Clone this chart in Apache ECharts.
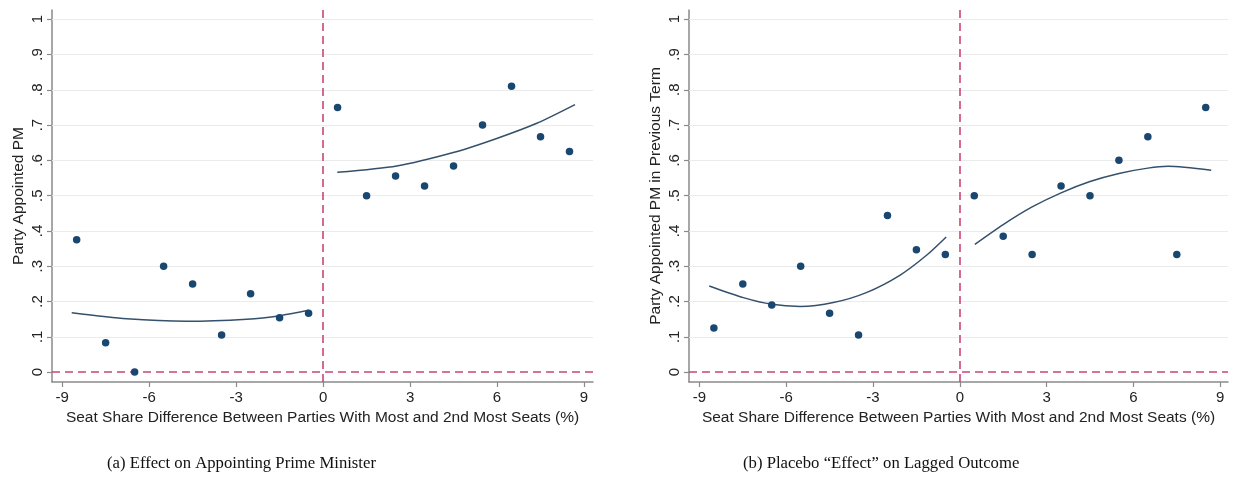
<!DOCTYPE html>
<html>
<head>
<meta charset="utf-8">
<script src="https://cdn.jsdelivr.net/npm/echarts@6/dist/echarts.min.js"></script>
<style>
  html, body { margin: 0; padding: 0; background: #fff; }
  #chart { width: 1234px; height: 488px; }
</style>
</head>
<body>
<div id="chart"></div>
<script>
// Bin midpoints of the seat-share margin (%)
const binsBelow = [-8.5, -7.5, -6.5, -5.5, -4.5, -3.5, -2.5, -1.5, -0.5];
const binsAbove = [0.5, 1.5, 2.5, 3.5, 4.5, 5.5, 6.5, 7.5, 8.5];

// (a) share of parties appointed PM, per bin
const pmBelow = [0.375, 0.083, 0.0, 0.30, 0.25, 0.105, 0.222, 0.154, 0.167];
const pmAbove = [0.75, 0.50, 0.556, 0.527, 0.584, 0.70, 0.81, 0.667, 0.625];

// (b) share appointed PM in the previous term, per bin
const lagBelow = [0.125, 0.25, 0.19, 0.30, 0.167, 0.105, 0.444, 0.347, 0.333];
const lagAbove = [0.50, 0.385, 0.333, 0.527, 0.50, 0.60, 0.667, 0.333, 0.75];

// Quadratic fit curves on each side of the cutoff
const fitPmBelowX = [-8.67, -6.77, -4.7, -2.63, -1.48, -0.5];
const fitPmBelowY = [0.168, 0.151, 0.144, 0.150, 0.160, 0.175];
const fitPmAboveX = [0.49, 2.54, 4.49, 5.99, 7.37, 8.69];
const fitPmAboveY = [0.566, 0.584, 0.622, 0.662, 0.705, 0.758];
const fitLagBelowX = [-8.66, -7.48, -6.5, -5.52, -4.37, -3.21, -2.06, -1.15, -0.47];
const fitLagBelowY = [0.244, 0.211, 0.192, 0.186, 0.197, 0.226, 0.275, 0.331, 0.383];
const fitLagAboveX = [0.52, 1.5, 2.5, 3.5, 4.5, 5.5, 6.5, 7.2, 8.69];
const fitLagAboveY = [0.362, 0.418, 0.468, 0.508, 0.540, 0.563, 0.578, 0.583, 0.572];

// Axis ticks
const xTicks = [-9, -6, -3, 0, 3, 6, 9];
const yTicks = [0, 0.1, 0.2, 0.3, 0.4, 0.5, 0.6, 0.7, 0.8, 0.9, 1];

const xTitle = 'Seat Share Difference Between Parties With Most and 2nd Most Seats (%)';
const yTitles = ['Party Appointed PM', 'Party Appointed PM in Previous Term'];
const captions = ['(a) Effect on Appointing Prime Minister', '(b) Placebo \u201cEffect\u201d on Lagged Outcome'];

const NAVY = '#1a476f';
const FIT = '#35506b';
const REF = '#c8477a';
const AXIS = '#8a8a8a';
const SANS = 'Liberation Sans, Arial, sans-serif';

const zip = (xs, ys) => xs.map((x, i) => [x, ys[i]]);
const yFmt = v => (Math.abs(v) < 1e-9 ? '0' : Math.abs(v - 1) < 1e-9 ? '1' : '.' + Math.round(v * 10));

function xAxisFor(gi, min, max) {
  return {
    type: 'value', gridIndex: gi, min: min, max: max,
    name: xTitle, nameLocation: 'middle', nameGap: 28,
    nameTextStyle: { fontFamily: SANS, fontSize: 15.5, color: '#222' },
    axisLine: { onZero: false, lineStyle: { color: AXIS, width: 1.5 } },
    axisTick: { show: true, length: 5, customValues: xTicks, lineStyle: { color: AXIS, width: 1.2 } },
    axisLabel: { customValues: xTicks, margin: 8, fontFamily: SANS, fontSize: 15, color: '#222' },
    splitLine: { show: false }
  };
}

function yAxisFor(gi, title) {
  return {
    type: 'value', gridIndex: gi, min: -0.028, max: 1.026,
    name: title, nameLocation: 'middle', nameGap: 25,
    nameTextStyle: { fontFamily: SANS, fontSize: 15.5, color: '#222' },
    axisLine: { onZero: false, lineStyle: { color: AXIS, width: 1.5 } },
    axisTick: { show: true, length: 5, customValues: yTicks, lineStyle: { color: AXIS, width: 1.2 } },
    axisLabel: { customValues: yTicks, rotate: 90, margin: 7, fontFamily: SANS, fontSize: 15, color: '#222', formatter: yFmt },
    splitLine: { show: false }
  };
}

function panelSeries(gi, below, above, fitB, fitA) {
  const gridLines = yTicks.filter(v => v > 0).map(v => ({ yAxis: v }));
  return [
    { // horizontal gridlines
      type: 'line', xAxisIndex: gi, yAxisIndex: gi, data: [], z: 1, silent: true,
      markLine: { silent: true, z: 1, symbol: 'none', label: { show: false }, animation: false,
        lineStyle: { color: '#ebebeb', width: 1, type: 'solid' }, data: gridLines }
    },
    { // cutoff and zero reference lines
      type: 'line', xAxisIndex: gi, yAxisIndex: gi, data: [], z: 2, silent: true,
      markLine: { silent: true, z: 2, symbol: 'none', label: { show: false }, animation: false,
        lineStyle: { color: REF, width: 1.6, type: [8, 5] }, data: [{ xAxis: 0 }, { yAxis: 0 }] }
    },
    { type: 'line', xAxisIndex: gi, yAxisIndex: gi, data: fitB, smooth: 0.25, showSymbol: false, z: 8,
      lineStyle: { color: FIT, width: 1.5 }, animation: false },
    { type: 'line', xAxisIndex: gi, yAxisIndex: gi, data: fitA, smooth: 0.25, showSymbol: false, z: 8,
      lineStyle: { color: FIT, width: 1.5 }, animation: false },
    { type: 'scatter', xAxisIndex: gi, yAxisIndex: gi, data: zip(binsBelow, below), symbolSize: 7.5, z: 10,
      itemStyle: { color: NAVY, opacity: 1 }, animation: false },
    { type: 'scatter', xAxisIndex: gi, yAxisIndex: gi, data: zip(binsAbove, above), symbolSize: 7.5, z: 10,
      itemStyle: { color: NAVY, opacity: 1 }, animation: false }
  ];
}

const chart = echarts.init(document.getElementById('chart'), null, { renderer: 'canvas' });
chart.setOption({
  backgroundColor: '#ffffff',
  animation: false,
  grid: [
    { left: 52, right: 641, top: 10, bottom: 106 },
    { left: 689, right: 6, top: 10, bottom: 106 }
  ],
  xAxis: [xAxisFor(0, -9.35, 9.31), xAxisFor(1, -9.36, 9.27)],
  yAxis: [yAxisFor(0, yTitles[0]), yAxisFor(1, yTitles[1])],
  series: [
    ...panelSeries(0, pmBelow, pmAbove, zip(fitPmBelowX, fitPmBelowY), zip(fitPmAboveX, fitPmAboveY)),
    ...panelSeries(1, lagBelow, lagAbove, zip(fitLagBelowX, fitLagBelowY), zip(fitLagAboveX, fitLagAboveY))
  ],
  graphic: [
    { type: 'text', left: 107, top: 455, style: { text: captions[0], font: '16.7px "Liberation Serif", "DejaVu Serif", serif', fill: '#111' } },
    { type: 'text', left: 743, top: 455, style: { text: captions[1], font: '16.7px "Liberation Serif", "DejaVu Serif", serif', fill: '#111' } }
  ]
});
</script>
</body>
</html>
